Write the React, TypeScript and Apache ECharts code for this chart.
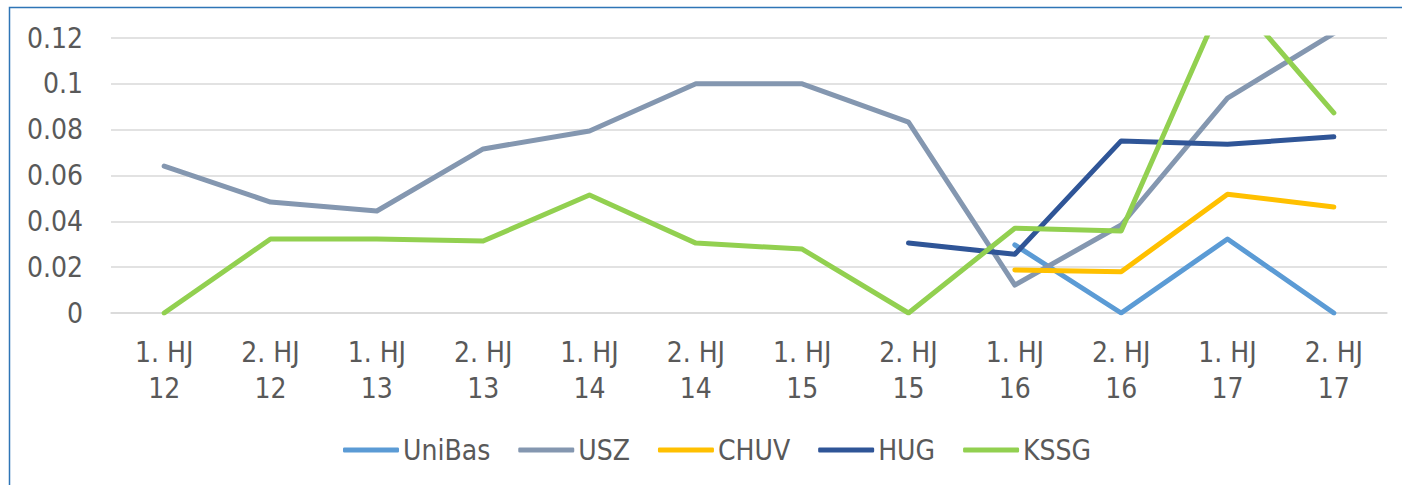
import React, { useEffect, useRef } from "react";
import * as echarts from "echarts";

const categories = [
  "1. HJ\n12", "2. HJ\n12", "1. HJ\n13", "2. HJ\n13", "1. HJ\n14", "2. HJ\n14",
  "1. HJ\n15", "2. HJ\n15", "1. HJ\n16", "2. HJ\n16", "1. HJ\n17", "2. HJ\n17",
];

const uniBas = [null, null, null, null, null, null, null, null, 0.0297, 0, 0.0323, 0];
const usz = [0.0641, 0.0484, 0.0445, 0.0716, 0.0794, 0.1, 0.1, 0.0833, 0.0122, 0.0384, 0.0938, 0.122];
const chuv = [null, null, null, null, null, null, null, null, 0.0188, 0.018, 0.0518, 0.0463];
const hug = [null, null, null, null, null, null, null, 0.0305, 0.0256, 0.0751, 0.0736, 0.0769];
const kssg = [0, 0.0323, 0.0323, 0.0314, 0.0515, 0.0305, 0.0279, 0, 0.037, 0.0358, 0.141, 0.0873];

const seriesNames = ["UniBas", "USZ", "CHUV", "HUG", "KSSG"];
const seriesColors = ["#5b9bd5", "#8497b0", "#ffc000", "#2f5597", "#92d050"];
const seriesData = [uniBas, usz, chuv, hug, kssg];

const FONT = "'DejaVu Sans Condensed', 'DejaVu Sans', sans-serif";
const TEXT = "#595959";

export default function App() {
  const ref = useRef<HTMLDivElement>(null);
  useEffect(() => {
    if (!ref.current) return;
    const chart = echarts.init(ref.current, null, { renderer: "svg" });
    chart.setOption({
      animation: false,
      backgroundColor: "#ffffff",
      textStyle: { fontFamily: FONT },
      grid: { left: 111, right: 15, top: 38, bottom: 172, containLabel: false },
      graphic: [
        {
          type: "rect",
          shape: { x: 9.5, y: 7.5, width: 1600, height: 700 },
          style: { fill: "none", stroke: "#2e75b6", lineWidth: 1.5 },
          silent: true,
          z: 100,
        },
      ],
      legend: {
        left: 338,
        top: 431,
        icon: "roundRect",
        itemWidth: 56,
        itemHeight: 5,
        itemGap: 28,
        textStyle: { color: TEXT, fontSize: 28, fontFamily: FONT, padding: [0, 0, 0, -1] },
        data: seriesNames,
      },
      xAxis: {
        type: "category",
        data: categories,
        boundaryGap: true,
        axisTick: { show: false },
        axisLine: { show: true, lineStyle: { color: "#d9d9d9", width: 1.5 } },
        axisLabel: {
          color: TEXT,
          fontSize: 28,
          fontFamily: FONT,
          lineHeight: 36,
          margin: 21,
          interval: 0,
        },
      },
      yAxis: {
        type: "value",
        min: 0,
        max: 0.12,
        interval: 0.02,
        axisLine: { show: false },
        axisTick: { show: false },
        splitLine: { lineStyle: { color: "#d9d9d9", width: 1.5 } },
        axisLabel: {
          color: TEXT,
          fontSize: 28,
          fontFamily: FONT,
          margin: 28,
          formatter: (v: number) => String(Math.round(v * 100) / 100),
        },
      },
      series: seriesNames.map((name, i) => ({
        name,
        type: "line",
        data: seriesData[i],
        symbol: "none",
        showSymbol: false,
        clip: true,
        color: seriesColors[i],
        itemStyle: { color: seriesColors[i] },
        lineStyle: { width: 5, color: seriesColors[i], cap: "round", join: "round" },
      })),
    });
    return () => chart.dispose();
  }, []);
  return (
    <div
      ref={ref}
      style={{ position: "absolute", left: 0, top: 0, width: 1402, height: 485 }}
    />
  );
}
